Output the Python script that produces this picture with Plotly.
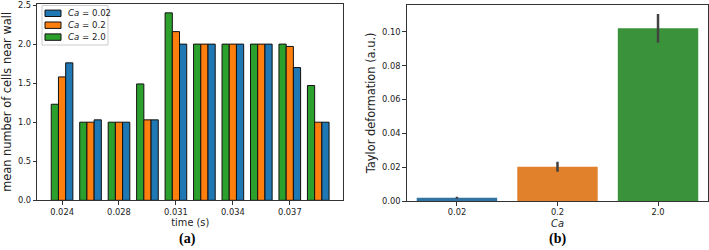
import plotly.graph_objects as go

times = ["0.024", "0.026", "0.028", "0.029", "0.031", "0.032", "0.034", "0.035", "0.037", "0.038"]
time_ticks = ["0.024", "0.028", "0.031", "0.034", "0.037"]
cells_ca2 = [1.23, 1.0, 1.0, 1.49, 2.40, 2.0, 2.0, 2.0, 2.0, 1.47]
cells_ca02 = [1.58, 1.0, 1.0, 1.03, 2.16, 2.0, 2.0, 2.0, 1.97, 1.0]
cells_ca002 = [1.76, 1.03, 1.0, 1.03, 2.0, 2.0, 2.0, 2.0, 1.70, 1.0]
legend_labels = ["<i>Ca</i> = 0.02", "<i>Ca</i> = 0.2", "<i>Ca</i> = 2.0"]

ca_labels = ["0.02", "0.2", "2.0"]
taylor = [0.0019, 0.0202, 0.1021]
taylor_err_plus = [0.0006, 0.0030, 0.0085]
taylor_err_minus = [0.0006, 0.0029, 0.0086]

BLUE, ORANGE, GREEN = "#1f77b4", "#ff7f0e", "#2ca02c"
SB = ["#3274a1", "#e1812c", "#3a923a"]
W, H = 709, 250

fig = go.Figure()
for vals, col in [(cells_ca2, GREEN), (cells_ca02, ORANGE), (cells_ca002, BLUE)]:
    fig.add_trace(go.Bar(x=times, y=vals, marker=dict(color=col, line=dict(color="#111", width=1)),
                         xaxis="x", yaxis="y", showlegend=False))

fig.add_trace(go.Bar(x=ca_labels, y=taylor, marker=dict(color=SB, line=dict(width=0)), width=0.8,
                     error_y=dict(type="data", array=taylor_err_plus, arrayminus=taylor_err_minus,
                                  color="#424242", thickness=2.5, width=0),
                     xaxis="x2", yaxis="y2", showlegend=False))

axcommon = dict(showline=True, linecolor="#333", linewidth=1, mirror=True, ticks="outside",
                ticklen=3.5, tickcolor="#333", showgrid=False, zeroline=False, automargin=False,
                ticklabeloverflow="allow",
                tickfont=dict(family="DejaVu Sans", size=8.3, color="#222"))
xtfont = dict(family="DejaVu Sans", size=9.8, color="#222")
ytfont = dict(family="DejaVu Sans", size=11.4, color="#222")

# manual matplotlib-style legend
shapes = [dict(type="rect", xref="paper", yref="paper", x0=42 / W, x1=108 / W, y0=1 - 45 / H, y1=1 - 5.5 / H,
               line=dict(color="#cccccc", width=1), fillcolor="rgba(255,255,255,0.8)", layer="above")]
annotations = []
for i, (lab, col) in enumerate(zip(legend_labels, [BLUE, ORANGE, GREEN])):
    yc = 13.3 + 11.9 * i
    shapes.append(dict(type="rect", xref="paper", yref="paper", x0=45 / W, x1=61 / W,
                       y0=1 - (yc + 3.2) / H, y1=1 - (yc - 3.2) / H,
                       line=dict(color="#111", width=1), fillcolor=col, layer="above"))
    annotations.append(dict(text=lab, x=65.5 / W, y=1 - yc / H, xref="paper", yref="paper",
                            xanchor="left", yanchor="middle", showarrow=False,
                            font=dict(family="DejaVu Sans", size=8.6, color="#222")))

annotations += [
    dict(text="<b>(a)</b>", x=188 / W, y=1 - 239 / H, xref="paper", yref="paper", showarrow=False,
         xanchor="center", yanchor="middle", font=dict(family="Liberation Serif", size=14, color="black")),
    dict(text="<b>(b)</b>", x=557 / W, y=1 - 239 / H, xref="paper", yref="paper", showarrow=False,
         xanchor="center", yanchor="middle", font=dict(family="Liberation Serif", size=14, color="black")),
]

fig.update_layout(
    width=W, height=H, margin=dict(l=0, r=0, t=0, b=0),
    plot_bgcolor="white", paper_bgcolor="white",
    barmode="group", bargap=0.24, bargroupgap=0,
    xaxis=dict(domain=[0.0526, 0.4842], type="category", range=[-0.87, 9.88],
               tickvals=time_ticks, ticktext=time_ticks, anchor="y",
               title=dict(text="time (s)", font=xtfont, standoff=3), **axcommon),
    yaxis=dict(domain=[0.1988, 0.986], range=[0, 2.52], tickvals=[0, 0.5, 1.0, 1.5, 2.0, 2.5],
               tickformat=".1f", anchor="x",
               title=dict(text="mean number of cells near wall", font=ytfont, standoff=4), **axcommon),
    xaxis2=dict(domain=[0.5736, 0.999], type="category", range=[-0.5, 2.5], anchor="y2",
                title=dict(text="<i>Ca</i>", font=xtfont, standoff=3), **axcommon),
    yaxis2=dict(domain=[0.196, 0.981], range=[0, 0.1160], tickvals=[0, 0.02, 0.04, 0.06, 0.08, 0.10],
                tickformat=".2f", anchor="x2",
                title=dict(text="Taylor deformation (a.u.)", font=ytfont, standoff=4), **axcommon),
    shapes=shapes,
    annotations=annotations,
)

fig.write_html("out.html", config={"displayModeBar": False, "staticPlot": True},
               post_script="document.body.style.margin='0';document.body.style.overflow='hidden';")
